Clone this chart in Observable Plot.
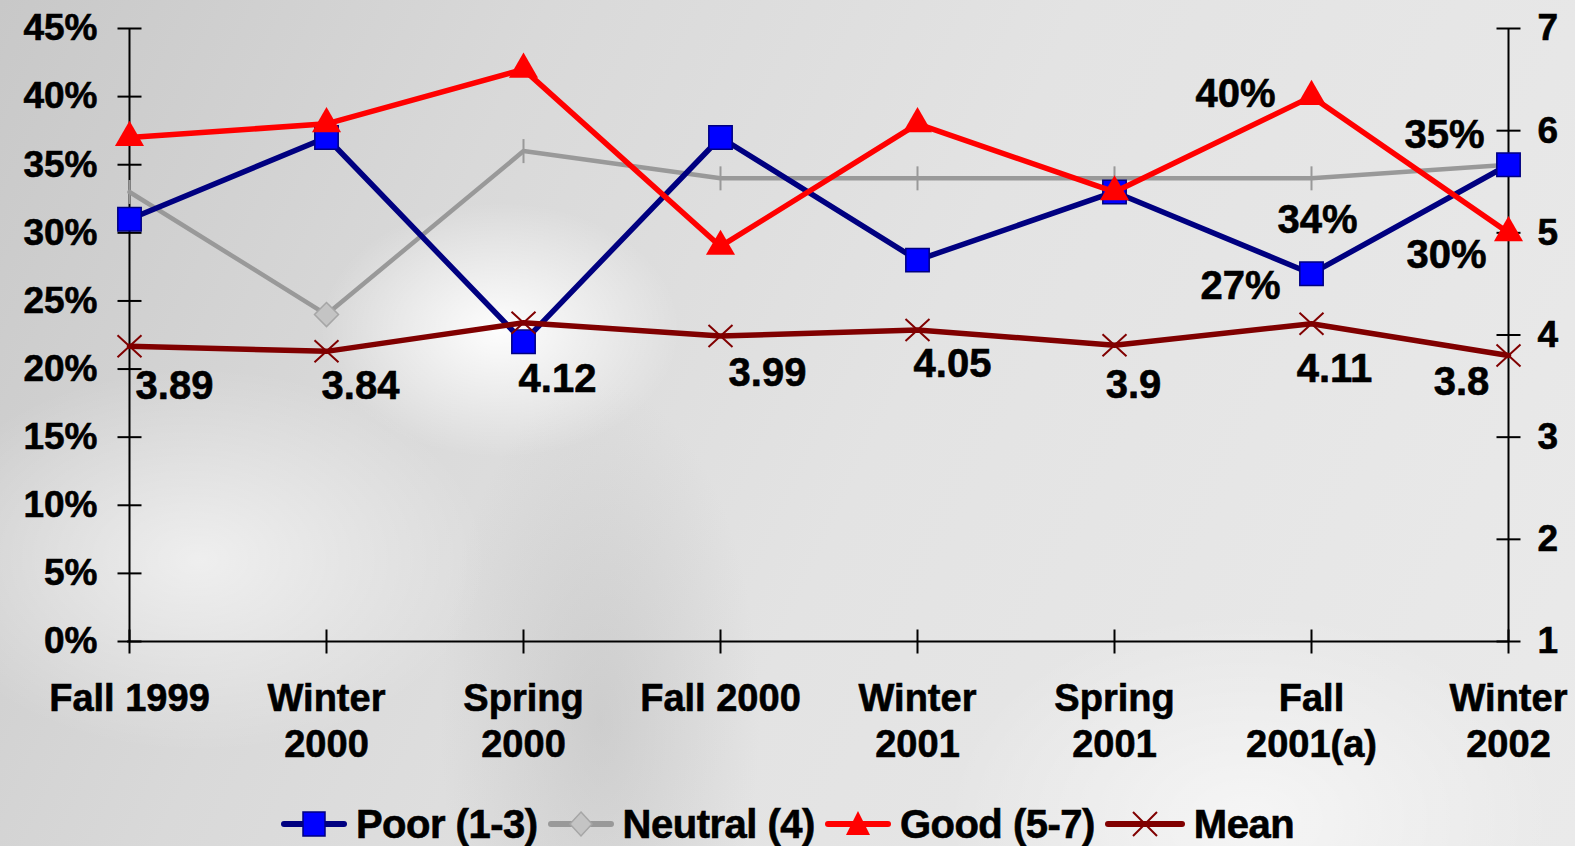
<!DOCTYPE html>
<html>
<head>
<meta charset="utf-8">
<script src="https://cdn.jsdelivr.net/npm/d3@7"></script>
<script src="https://cdn.jsdelivr.net/npm/@observablehq/plot@0.6"></script>
<style>
  html, body { margin: 0; padding: 0; }
  body {
    width: 1575px; height: 846px; overflow: hidden; position: relative;
    font-family: "Liberation Sans", Arial, sans-serif; font-weight: bold;
    background:
      radial-gradient(ellipse 240px 170px at 500px 330px, rgba(255,255,255,0.95), rgba(255,255,255,0) 75%),
      radial-gradient(ellipse 360px 240px at 200px 560px, rgba(255,255,255,0.6), rgba(255,255,255,0) 80%),
      radial-gradient(ellipse 380px 260px at 1250px 820px, rgba(255,255,255,0.6), rgba(255,255,255,0) 80%),
      radial-gradient(ellipse 200px 420px at 600px 720px, rgba(170,170,170,0.35), rgba(170,170,170,0) 80%),
      linear-gradient(115deg, #c8c8c8 0%, #d9d9d9 28%, #e3e3e3 55%, #eaeaea 100%);
  }
  #chart { position: absolute; left: 0; top: 0; }
  #chart svg text { stroke: #000; stroke-width: 0.6px; }
  #legend {
    position: absolute; left: 0; top: 801px; width: 1575px; height: 46px;
    display: flex; justify-content: center; align-items: center;
    font-size: 40px; font-weight: bold; color: #000; letter-spacing: -0.5px;
    -webkit-text-stroke: 0.6px #000;
  }
  .item { display: flex; align-items: center; margin: 0 5px; }
  .item svg { margin-right: 9px; }
</style>
</head>
<body>
<div id="chart"></div>
<div id="legend"></div>
<script>
// ---- data ----
const categories = ["Fall 1999", "Winter 2000", "Spring 2000", "Fall 2000", "Winter 2001", "Spring 2001", "Fall 2001(a)", "Winter 2002"];
const categoryLabels = ["Fall 1999", "Winter\n2000", "Spring\n2000", "Fall 2000", "Winter\n2001", "Spring\n2001", "Fall\n2001(a)", "Winter\n2002"];
const poor = [31, 37, 22, 37, 28, 33, 27, 35];
const neutral = [33, 24, 36, 34, 34, 34, 34, 35];
const good = [37, 38, 42, 29, 38, 33, 40, 30];
const mean = [3.89, 3.84, 4.12, 3.99, 4.05, 3.9, 4.11, 3.8];
const meanLabels = ["3.89", "3.84", "4.12", "3.99", "4.05", "3.9", "4.11", "3.8"];
const leftTicks = [0, 5, 10, 15, 20, 25, 30, 35, 40, 45];
const rightTicks = [1, 2, 3, 4, 5, 6, 7];
const annoCategories = ["Fall 2001(a)", "Fall 2001(a)", "Fall 2001(a)", "Winter 2002", "Winter 2002"];
const annoValues = [40, 34, 27, 35, 30];
const annoTexts = ["40%", "34%", "27%", "35%", "30%"];
const seriesNames = ["Poor (1-3)", "Neutral (4)", "Good (5-7)", "Mean"];

// ---- layout / style ----
const meanLabelOffsets = [[45, 40], [34, 35], [34, 56], [47, 37], [35, 34], [19, 40], [23, 45], [-47, 27]];
const annoOffsets = [[-76, -2], [6, 42], [-71, 12], [-64, -30], [-62, 22]];
const toPct = v => (v - 1) / 6 * 45; // right axis (1..7) onto left scale (0..45)

const hTick = {draw(c) { c.moveTo(-12, 0); c.lineTo(12, 0); }};
const vTick = {draw(c) { c.moveTo(0, -12); c.lineTo(0, 12); }};
const xSym = {draw(c) { c.moveTo(-12, -11); c.lineTo(12, 11); c.moveTo(-12, 11); c.lineTo(12, -11); }};
const diamond = {draw(c) { c.moveTo(0, -12); c.lineTo(12, 0); c.lineTo(0, 12); c.lineTo(-12, 0); c.closePath(); }};

const first = categories[0], last = categories[categories.length - 1];
const labelOf = Object.fromEntries(categories.map((c, i) => [c, categoryLabels[i]]));

const marks = [
  // axis lines
  Plot.ruleY([0], {stroke: "#000", strokeWidth: 2}),
  Plot.ruleX([first, last], {stroke: "#000", strokeWidth: 2}),
  // cross ticks
  Plot.dot(leftTicks, {x: () => first, y: d => d, symbol: hTick, stroke: "#000", strokeWidth: 2, fill: "none"}),
  Plot.dot(rightTicks, {x: () => last, y: d => toPct(d), symbol: hTick, stroke: "#000", strokeWidth: 2, fill: "none"}),
  Plot.dot(categories, {x: d => d, y: () => 0, symbol: vTick, stroke: "#000", strokeWidth: 2, fill: "none"}),
  // axis labels
  Plot.axisY(leftTicks, {anchor: "left", tickSize: 0, tickPadding: 30, tickFormat: d => d + "%", label: null, fontSize: 37, fontWeight: "bold", color: "#000"}),
  Plot.axisY(rightTicks.map(toPct), {anchor: "right", tickSize: 0, tickPadding: 28, tickFormat: d => String(Math.round(d / 45 * 6 + 1)), label: null, fontSize: 37, fontWeight: "bold", color: "#000"}),
  Plot.axisX(categories, {anchor: "bottom", tickSize: 0, tickPadding: 37, tickFormat: d => labelOf[d], label: null, fontSize: 38, fontWeight: "bold", lineHeight: 1.21, color: "#000"}),
  // Neutral
  Plot.line(categories, {x: d => d, y: (d, i) => neutral[i], stroke: "#999999", strokeWidth: 4.5}),
  Plot.dot(categories, {x: d => d, y: (d, i) => neutral[i], symbol: vTick, stroke: "#999999", strokeWidth: 2, fill: "none", filter: (d, i) => i !== 1}),
  Plot.dot(categories, {x: d => d, y: (d, i) => neutral[i], symbol: diamond, fill: "#c4c4c4", stroke: "#a6a6a6", strokeWidth: 1.5, filter: (d, i) => i === 1}),
  // Poor
  Plot.line(categories, {x: d => d, y: (d, i) => poor[i], stroke: "#000080", strokeWidth: 5.5}),
  Plot.dot(categories, {x: d => d, y: (d, i) => poor[i], symbol: "square", r: 13.2, fill: "#0000ff", stroke: "#000080", strokeWidth: 1.5}),
  // Good
  Plot.line(categories, {x: d => d, y: (d, i) => good[i], stroke: "#ff0000", strokeWidth: 5.5}),
  Plot.dot(categories, {x: d => d, y: (d, i) => good[i], symbol: "triangle", r: 10.8, fill: "#ff0000", stroke: "none"}),
  // Mean
  Plot.line(categories, {x: d => d, y: (d, i) => toPct(mean[i]), stroke: "#800000", strokeWidth: 5.5}),
  Plot.dot(categories, {x: d => d, y: (d, i) => toPct(mean[i]), symbol: xSym, stroke: "#800000", strokeWidth: 2, fill: "none"})
];
// mean value labels
meanLabels.forEach((t, i) => {
  marks.push(Plot.text([i], {x: j => categories[j], y: j => toPct(mean[j]), text: j => meanLabels[j], dx: meanLabelOffsets[i][0], dy: meanLabelOffsets[i][1], fontSize: 40, fontWeight: "bold", fill: "#000"}));
});
// percent annotations
annoTexts.forEach((t, i) => {
  marks.push(Plot.text([i], {x: j => annoCategories[j], y: j => annoValues[j], text: j => annoTexts[j], dx: annoOffsets[i][0], dy: annoOffsets[i][1], fontSize: 40, fontWeight: "bold", fill: "#000"}));
});

const chart = Plot.plot({
  width: 1575,
  height: 790,
  marginLeft: 127,
  marginRight: 66,
  marginTop: 28,
  marginBottom: 149,
  x: {type: "point", domain: categories, padding: 0},
  y: {domain: [0, 45]},
  style: {background: "transparent", fontFamily: "'Liberation Sans', Arial, sans-serif", fontWeight: "bold", fontSize: "37px", overflow: "visible", color: "#000"},
  marks
});
document.getElementById("chart").appendChild(chart);

// ---- legend ----
const legendSymbols = [
  `<line x1="3" y1="16" x2="63" y2="16" stroke="#000080" stroke-width="6" stroke-linecap="round"/><rect x="22" y="4" width="22" height="24" fill="#0000ff" stroke="#000080" stroke-width="1.5"/>`,
  `<line x1="3" y1="16" x2="63" y2="16" stroke="#999999" stroke-width="6" stroke-linecap="round"/><path d="M33,4 L44,16 L33,28 L22,16 Z" fill="#c4c4c4" stroke="#a6a6a6" stroke-width="1.5"/>`,
  `<line x1="3" y1="16" x2="63" y2="16" stroke="#ff0000" stroke-width="6" stroke-linecap="round"/><path d="M33,3 L45,27 L21,27 Z" fill="#ff0000"/>`,
  `<line x1="3" y1="16" x2="77" y2="16" stroke="#800000" stroke-width="6" stroke-linecap="round"/><path d="M28,4 L52,28 M28,28 L52,4" stroke="#800000" stroke-width="2"/>`
];
const legend = document.getElementById("legend");
seriesNames.forEach((name, i) => {
  const item = document.createElement("div");
  item.className = "item";
  const w = i === 3 ? 80 : 66;
  item.innerHTML = `<svg width="${w}" height="32" viewBox="0 0 ${w} 32">${legendSymbols[i]}</svg><span>${name}</span>`;
  legend.appendChild(item);
});
</script>
</body>
</html>
